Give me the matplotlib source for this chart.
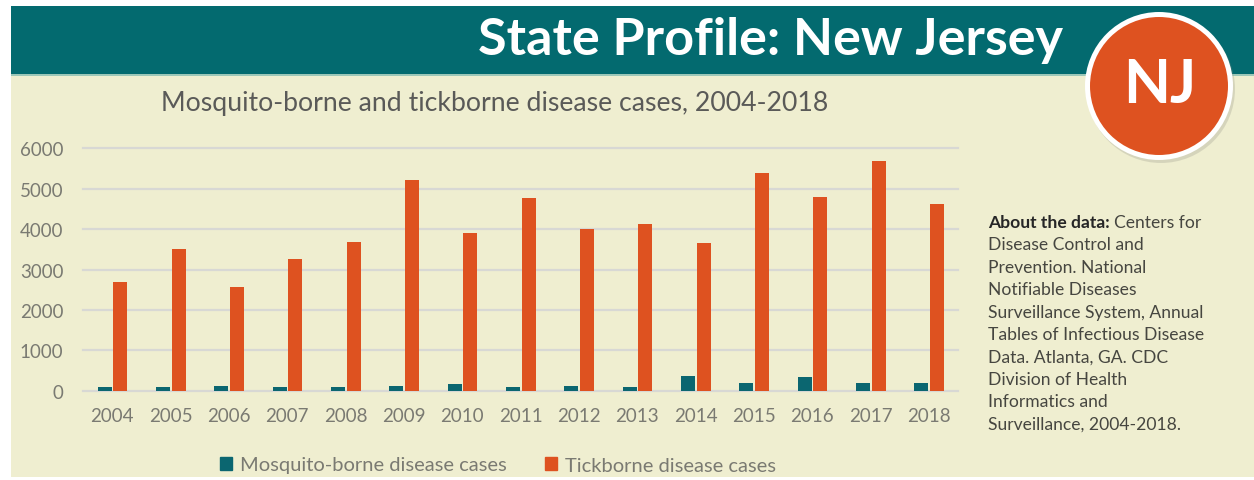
import matplotlib
matplotlib.use("Agg")
import matplotlib.pyplot as plt
from matplotlib.patches import Rectangle, Ellipse, Patch
import numpy as np

# data ===========================================================
years = ["2004", "2005", "2006", "2007", "2008", "2009", "2010", "2011",
         "2012", "2013", "2014", "2015", "2016", "2017", "2018"]
mosquito = [85, 100, 105, 85, 85, 105, 155, 100, 115, 100, 360, 190, 335, 200, 200]
tick = [2700, 3510, 2575, 3260, 3670, 5210, 3905, 4760, 4000, 4125, 3650, 5400, 4785, 5685, 4620]
yticks = [0, 1000, 2000, 3000, 4000, 5000, 6000]
series_names = ["Mosquito-borne disease cases", "Tickborne disease cases"]
about_lines = ["Disease Control and", "Prevention. National", "Notifiable Diseases",
               "Surveillance System, Annual", "Tables of Infectious Disease",
               "Data. Atlanta, GA. CDC", "Division of Health", "Informatics and",
               "Surveillance, 2004-2018."]
# ================================================================

W, H = 1254, 481
TEAL = "#036a6f"
BAR_TEAL = "#0b6670"
ORANGE = "#de5220"
BEIGE = "#efeed0"
GRAY = "#7a7a72"
FONT = ["Lato", "DejaVu Sans"]

plt.rcParams["font.family"] = FONT


def fx(px):
    return px / W


def fy(py):
    return 1 - py / H


fig = plt.figure(figsize=(W / 100, H / 100), dpi=100)
fig.patch.set_facecolor("white")

# background panels
fig.add_artist(Rectangle((fx(11), fy(478)), fx(W) - fx(11), fy(75) - fy(478),
                         transform=fig.transFigure, facecolor=BEIGE, edgecolor="none", zorder=0))
fig.add_artist(Rectangle((fx(11), fy(75)), fx(W) - fx(11), fy(7) - fy(75),
                         transform=fig.transFigure, facecolor=TEAL, edgecolor="none", zorder=1))
fig.add_artist(Rectangle((fx(11), fy(77)), fx(W) - fx(11), fy(75) - fy(77),
                         transform=fig.transFigure, facecolor="#9cc7b8", edgecolor="none", zorder=1))

fig.text(fx(770), fy(41), "State Profile: New Jersey", color="white", fontsize=37.5,
         fontweight="bold", ha="center", va="center", zorder=3)

# NJ badge
cx, cy, r = 1159, 87, 74
fig.add_artist(Ellipse((fx(cx + 2), fy(cy + 3)), 2 * r / W, 2 * r / H, transform=fig.transFigure,
                       facecolor="#8a8a80", alpha=0.25, edgecolor="none", zorder=4))
fig.add_artist(Ellipse((fx(cx), fy(cy)), 2 * r / W, 2 * r / H, transform=fig.transFigure,
                       facecolor="white", edgecolor="none", zorder=5))
fig.add_artist(Ellipse((fx(cx), fy(cy)), 2 * (r - 5) / W, 2 * (r - 5) / H, transform=fig.transFigure,
                       facecolor=ORANGE, edgecolor="none", zorder=6))
fig.text(fx(cx + 1), fy(cy - 2), "NJ", color="white", fontsize=44, fontweight="bold",
         ha="center", va="center", zorder=7)

# chart
ax = fig.add_axes([fx(83), fy(391.7), fx(958) - fx(83), fy(149.3) - fy(391.7)])
ax.set_facecolor("none")
x = np.arange(len(years))
w = 0.24
ax.bar(x - 0.13, mosquito, w, color=BAR_TEAL, zorder=3, label=series_names[0])
ax.bar(x + 0.14, tick, w, color=ORANGE, zorder=3, label=series_names[1])
ax.set_xlim(-0.5, len(years) - 0.5)
ax.set_ylim(0, 6000)
ax.set_yticks(yticks)
ax.set_xticks(x)
ax.set_xticklabels(years)
for s in ax.spines.values():
    s.set_visible(False)
ax.grid(axis="y", color="#d8d8d4", linewidth=1.6, zorder=0)
for gl in ax.get_ygridlines():
    gl.set_clip_on(False)
ax.tick_params(axis="both", length=0, colors=GRAY, labelsize=13.5)
ax.tick_params(axis="y", pad=14)
ax.tick_params(axis="x", pad=12)

fig.text(fx(495), fy(103), "Mosquito-borne and tickborne disease cases, 2004-2018",
         color="#5a5a58", fontsize=19.2, ha="center", va="center")

handles = [Patch(color=BAR_TEAL), Patch(color=ORANGE)]
fig.legend(handles, series_names, loc="center", bbox_to_anchor=(fx(498), fy(466)), ncol=2,
           frameon=False, fontsize=14.5, labelcolor=GRAY, handlelength=0.6, handleheight=0.6,
           handletextpad=0.4, columnspacing=1.9)

# about the data
FS = 12.6
renderer = fig.canvas.get_renderer()
t0 = fig.text(fx(988), fy(223), "About the data:", color="#262626", fontsize=FS,
              fontweight="bold", ha="left", va="center")
bb = t0.get_window_extent(renderer)
fig.text(bb.x1 / W + fx(4), fy(223), "Centers for", color="#464640", fontsize=FS,
         ha="left", va="center")
for i, line in enumerate(about_lines):
    fig.text(fx(988), fy(223 + 22.4 * (i + 1)), line, color="#464640", fontsize=FS,
             ha="left", va="center")

fig.savefig("out.png", dpi=100, facecolor="white")
